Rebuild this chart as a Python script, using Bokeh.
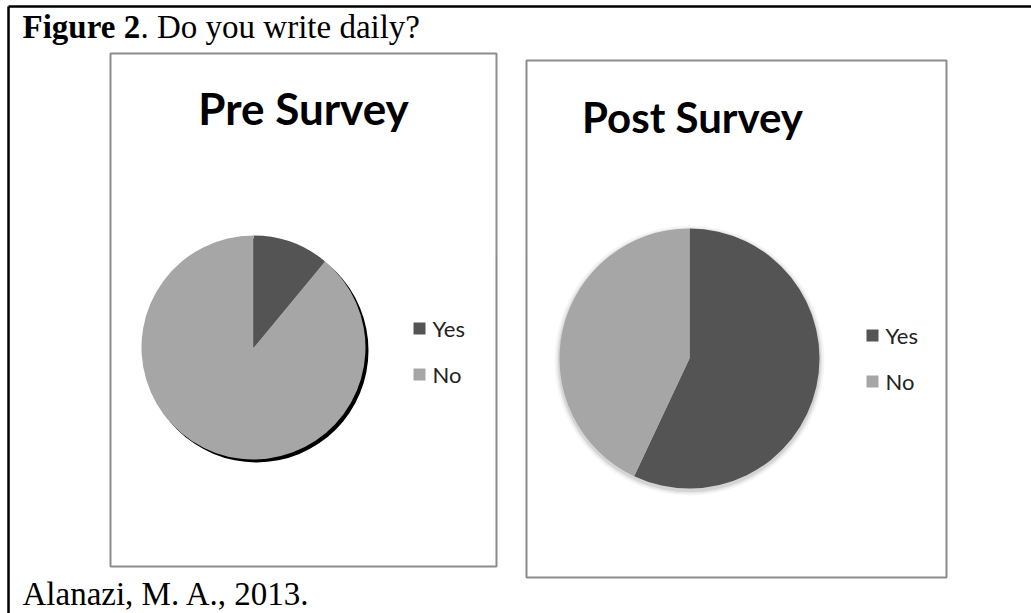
from bokeh.plotting import figure
from bokeh.models import Range1d
from bokeh.embed import file_html
from bokeh.resources import INLINE
from bokeh.core.properties import value
import numpy as np

# ---- data ----
categories = ["Yes", "No"]
pre_values = [11, 89]
post_values = [57, 43]
slice_colors = ["#545454", "#a6a6a6"]
pre_title = "Pre Survey"
post_title = "Post Survey"
fig_label = "Figure 2"
fig_caption = ". Do you write daily?"
citation = "Alanazi, M. A., 2013."

W, H = 1031, 613


def Y(y):
    return H - y


p = figure(width=W, height=H, x_range=Range1d(0, W), y_range=Range1d(0, H),
           output_backend="svg", toolbar_location=None, min_border=0,
           x_axis_location=None, y_axis_location=None)
p.grid.visible = False
p.outline_line_color = None
p.background_fill_color = "white"
p.border_fill_color = "white"

# outer frame (top and left)
p.line([8, W], [Y(6), Y(6)], line_color="black", line_width=2.5)
p.line([8, 8], [Y(6), 0], line_color="black", line_width=2.5)

# panels
p.quad(left=110, right=496, top=Y(53), bottom=Y(566), fill_color="white",
       line_color="#8c8c8c", line_width=2)
p.quad(left=526, right=946, top=Y(60), bottom=Y(577), fill_color="white",
       line_color="#8c8c8c", line_width=2)

serif = value("Liberation Serif")
sans = value("Lato")

# header text
p.text(x=[22], y=[Y(26)], text=[fig_label], text_font=serif, text_font_size="33px",
       text_font_style="bold", text_color="black", text_baseline="alphabetic")
p.text(x=[140], y=[Y(26)], text=[fig_caption], text_font=serif, text_font_size="33px",
       text_color="black", text_baseline="alphabetic")
p.text(x=[22], y=[Y(593)], text=[citation], text_font=serif, text_font_size="33px",
       text_color="black", text_baseline="alphabetic")


def pie(vals, cx, cy, r):
    v = np.array(vals, dtype=float)
    frac = v / v.sum()
    cum = np.concatenate([[0], np.cumsum(frac)])
    starts = np.pi / 2 - 2 * np.pi * cum[:-1]
    ends = np.pi / 2 - 2 * np.pi * cum[1:]
    p.wedge(x=[cx] * len(v), y=[Y(cy)] * len(v), radius=r, start_angle=list(starts),
            end_angle=list(ends), direction="clock", fill_color=slice_colors,
            line_color=None)


def legend(x, ys):
    for cat, col, yy in zip(categories, slice_colors, ys):
        p.quad(left=x, right=x + 12, top=Y(yy - 6), bottom=Y(yy + 6), fill_color=col,
               line_color=None)
        p.text(x=[x + 19], y=[Y(yy)], text=[cat], text_font=sans, text_font_size="22px",
               text_color="#222222", text_baseline="middle")


# Pre survey
p.text(x=[303], y=[Y(107)], text=[pre_title], text_font=sans, text_font_size="44px",
       text_font_style="bold", text_align="center", text_baseline="alphabetic",
       text_color="black")
p.circle(x=[256], y=[Y(350)], radius=112, fill_color="black", line_color=None)
pie(pre_values, 253, 347, 112)
legend(413, [328, 374])

# Post survey
p.text(x=[692], y=[Y(116)], text=[post_title], text_font=sans, text_font_size="42px",
       text_font_style="bold", text_align="center", text_baseline="alphabetic",
       text_color="black")
for dr, a in [(5, 0.04), (3, 0.06), (1.5, 0.08)]:
    p.circle(x=[689], y=[Y(360)], radius=130 + dr, fill_color="black",
             fill_alpha=a, line_color=None)
pie(post_values, 689, 358, 130)
legend(866, [335, 381])

open("out.html", "w").write(file_html(p, INLINE))
